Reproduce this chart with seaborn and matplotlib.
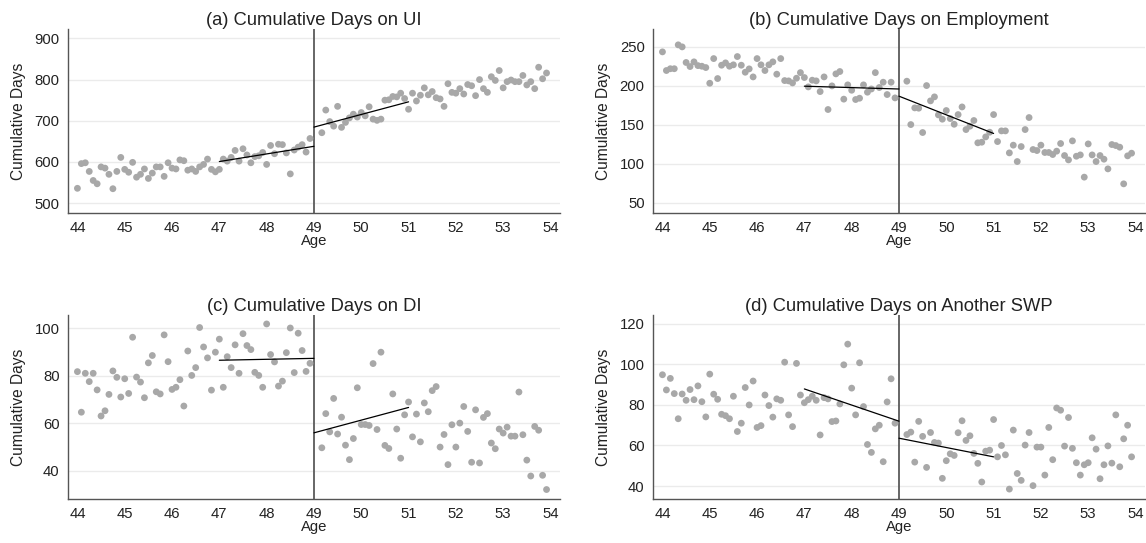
import numpy as np
import pandas as pd
import matplotlib
matplotlib.use("Agg")
import matplotlib.pyplot as plt
import seaborn as sns

# ---------------- data ----------------
cutoff = 49
titles = ["(a) Cumulative Days on UI", "(b) Cumulative Days on Employment",
          "(c) Cumulative Days on DI", "(d) Cumulative Days on Another SWP"]

# left of the cutoff: ages 44.0 ... 48.917 (monthly); right: 49.167 ... 53.917
ui_left = [536, 596, 598, 577, 555, 547, 588, 585, 570, 535, 577, 611, 582, 575, 599, 563, 570, 583, 560, 573,
           588, 588, 565, 598, 585, 583, 605, 603, 580, 583, 577, 588, 594, 607, 582, 576, 582, 607, 602, 611,
           628, 602, 632, 617, 598, 613, 615, 623, 594, 640, 620, 643, 642, 622, 571, 629, 636, 642, 624, 657]
ui_right = [671, 726, 698, 687, 735, 684, 696, 707, 716, 709, 720, 712, 734, 704, 701, 704, 750, 751, 759, 758,
            767, 754, 728, 767, 748, 762, 780, 763, 771, 756, 753, 735, 790, 769, 767, 778, 765, 788, 785, 761,
            800, 778, 769, 807, 798, 822, 780, 795, 799, 795, 795, 810, 787, 795, 778, 830, 802, 816]

emp_left = [243.6, 219.7, 222, 222, 252.6, 250, 230, 224.8, 230.8, 226, 225.2, 223.5, 203.4, 235, 209.4, 226.5,
            229.5, 225.2, 227, 237.6, 226.5, 217.5, 221.8, 211.5, 235, 227, 219.7, 227, 230.8, 215, 235, 206.8,
            206.4, 203.8, 209.8, 217, 210.7, 198.7, 207.3, 206.4, 192.7, 211.5, 169.7, 200, 215.4, 218.4, 183,
            201.3, 194.4, 182.5, 184.2, 201.3, 191.9, 196, 217, 197.9, 204.7, 188.9, 204.7, 184.6]
emp_right = [206, 150.4, 171.8, 171.4, 140.2, 200.4, 180.8, 185.9, 162.8, 157.3, 168.4, 158.1, 150.8, 163.2, 173,
             144, 148.3, 155.6, 127, 127.8, 134.6, 140.6, 163.2, 128.6, 142.3, 142.3, 114.1, 124, 103, 122.2, 144,
             159.4, 118.4, 117.1, 124, 114.6, 114.6, 112, 116.3, 126.1, 110.7, 105.1, 129.5, 109.8, 111.5, 83,
             125.6, 111.5, 103, 110.7, 106, 93.6, 124.8, 123.5, 121.4, 74.4, 110.3, 113.7]

di_left = [81.7, 64.6, 81, 77.5, 81, 74, 63, 65.2, 72.1, 82, 79.3, 71, 78.7, 72.5, 96.2, 79.4, 77.3, 70.7, 85.4,
           88.5, 73.2, 72.3, 97.2, 85.9, 74.2, 75.1, 78.3, 67.2, 90.4, 80.1, 83.4, 100.3, 92.1, 87.5, 73.9, 89.9,
           95.4, 75.1, 88, 83.4, 93, 81, 97.7, 92.7, 91, 81.4, 80.1, 75.1, 101.8, 88.9, 85.8, 75.6, 77.7, 89.7,
           100.1, 81.3, 97.9, 90.6, 81.8, 85.2]
di_right = [49.6, 64, 56.3, 70.4, 55.4, 62.5, 50.7, 44.6, 53.5, 74.9, 59.4, 59.4, 59, 85.1, 57.3, 89.9, 50.6, 49.3,
            72.3, 57.5, 45.2, 63.5, 68.9, 54.2, 63.8, 52.1, 68.5, 64.8, 73.7, 75.4, 49.9, 55.2, 42.5, 59.3, 49.9,
            60, 67, 56.5, 43.5, 65.6, 43.2, 62.4, 64, 51.6, 49.2, 57.5, 55.8, 58.3, 54.5, 54.5, 73.1, 55.1, 44.4,
            37.7, 58.6, 57, 38, 32]

swp_left = [94.9, 87.4, 93.1, 85.6, 73.2, 85.4, 82.3, 87.6, 82.6, 89.4, 81.6, 74.1, 95.2, 85.3, 82.8, 75.4, 74.7,
            73.2, 84.3, 66.9, 71, 88.6, 80, 91.8, 68.9, 69.8, 84.9, 79.7, 74, 83, 82.3, 101.1, 75.1, 69.3, 100.5,
            84.9, 81.1, 82.6, 84.3, 82.3, 65.2, 83.6, 83, 71.8, 72.1, 80.5, 99.8, 110, 88.3, 75.1, 100.8, 79.2,
            60.5, 56.6, 68.2, 70, 52, 81.5, 92.9, 71]
swp_right = [65.4, 66.6, 51.8, 71.9, 64.5, 49.2, 66.4, 61.5, 61.2, 43.8, 52.5, 55.9, 55.1, 66.3, 72.2, 62.5, 64.8,
             56.1, 51.2, 42, 57.2, 57.7, 72.8, 54.4, 60, 55.4, 38.5, 67.6, 46.2, 42.8, 60.2, 66.4, 40.2, 59.2, 59.2,
             45.4, 68.9, 53, 78.5, 77.4, 59.7, 73.8, 58.6, 51.5, 45.4, 50.5, 51.5, 63.8, 58.2, 43.6, 50.5, 59.8,
             51.3, 75.1, 49.5, 63.3, 70, 54.4]

# local linear fits (endpoint values at 47/49 and 49/51)
fit_ages_left = [47, 49]
fit_ages_right = [49, 51]
fit_left = {"ui": [601, 638], "emp": [199.6, 196], "di": [86.5, 87.3], "swp": [87.9, 72]}
fit_right = {"ui": [684.6, 746], "emp": [186.8, 139], "di": [55.9, 66.6], "swp": [63.6, 54.4]}

x_ticks = list(range(44, 55))
y_ticks = {"ui": [500, 600, 700, 800, 900], "emp": [50, 100, 150, 200, 250],
           "di": [40, 60, 80, 100], "swp": [40, 60, 80, 100, 120]}
y_lims = {"ui": (476, 923), "emp": (37, 273), "di": (28, 105.6), "swp": (33.6, 124.4)}

series = {"ui": (ui_left, ui_right), "emp": (emp_left, emp_right),
          "di": (di_left, di_right), "swp": (swp_left, swp_right)}
keys = ["ui", "emp", "di", "swp"]

# ---------------- style ----------------
sns.set_style("white")
plt.rcParams["font.family"] = ["Liberation Sans", "DejaVu Sans"]

fig = plt.figure(figsize=(11.46, 5.43), dpi=100)
positions = [(0.0593, 0.6077), (0.5698, 0.6077), (0.0593, 0.0810), (0.5698, 0.0810)]
W, H = 0.4293, 0.339

point_color = "#a8a8a8"
axis_color = "#555555"
text_color = "#222222"

for key, title, (x0, y0) in zip(keys, titles, positions):
    ax = fig.add_axes([x0, y0, W, H])
    left_vals, right_vals = series[key]
    age_l = 44 + np.arange(len(left_vals)) / 12
    age_r = cutoff + (2 + np.arange(len(right_vals))) / 12
    df = pd.DataFrame({"age": np.concatenate([age_l, age_r]),
                       "days": np.concatenate([left_vals, right_vals])})

    for yt in y_ticks[key]:
        ax.axhline(yt, color="#ebebeb", lw=1.0, zorder=0)

    sns.scatterplot(data=df, x="age", y="days", ax=ax, color=point_color,
                    s=24, edgecolor="none", linewidth=0, zorder=2)
    sns.lineplot(x=fit_ages_left, y=fit_left[key], ax=ax, color="black", lw=0.9, zorder=3)
    sns.lineplot(x=fit_ages_right, y=fit_right[key], ax=ax, color="black", lw=0.9, zorder=3)
    ax.axvline(cutoff, color="#5a5a5a", lw=1.3, zorder=1)

    ax.set_xlim(43.8, 54.2)
    ax.set_ylim(*y_lims[key])
    ax.set_xticks(x_ticks)
    ax.set_yticks(y_ticks[key])
    ax.tick_params(axis="both", direction="out", length=4, width=0.9, color=axis_color,
                   labelsize=10.7, labelcolor=text_color, pad=2)
    for side in ["top", "right"]:
        ax.spines[side].set_visible(False)
    for side in ["left", "bottom"]:
        ax.spines[side].set_color(axis_color)
        ax.spines[side].set_linewidth(1.0)
    ax.set_xlabel("Age", fontsize=10.7, color=text_color, labelpad=-1)
    ax.set_ylabel("Cumulative Days", fontsize=11.2, color=text_color, labelpad=6)
    ax.set_title(title, fontsize=13.2, color=text_color, pad=3)
    ax.grid(False)

fig.savefig("out.png", dpi=100)
